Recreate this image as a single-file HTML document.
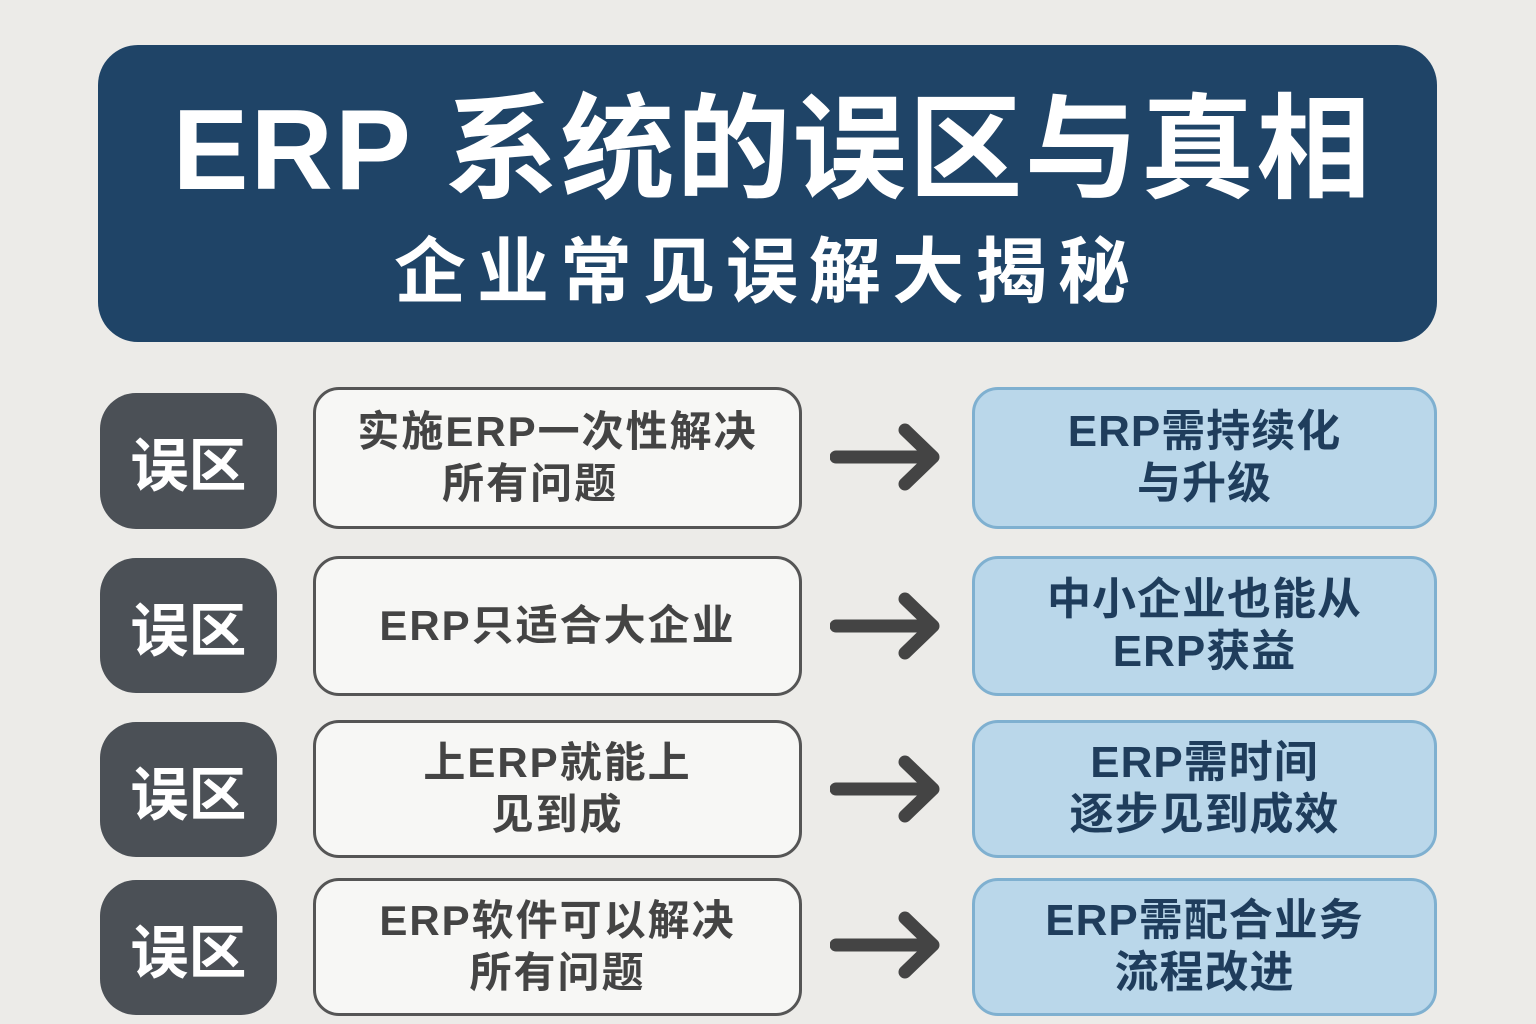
<!DOCTYPE html>
<html><head><meta charset="utf-8"><style>
body{margin:0;width:1536px;height:1024px;background:#ecebe8;font-family:"Liberation Sans","Noto Sans CJK SC",sans-serif;position:relative;overflow:hidden}
.hdr{position:absolute;left:98px;top:45px;width:1339px;height:297px;background:#1f4467;border-radius:40px;color:#fff;font-weight:bold}
.t1{position:absolute;left:10px;right:0;top:46px;text-align:center;font-size:114px;line-height:120px;letter-spacing:2px}
.t2{position:absolute;left:0;right:0;top:188px;text-align:center;font-size:72px;line-height:80px;letter-spacing:11px}
.a{position:absolute;left:100px;width:177px;background:#4b5056;border-radius:36px;color:#fff;font-size:58px;font-weight:bold;display:flex;align-items:center;justify-content:center}
.m{position:absolute;left:313px;width:483px;border:3px solid #555;background:#f7f7f5;border-radius:26px;color:#444;font-size:42px;font-weight:bold;display:flex;align-items:center;justify-content:center;text-align:center;line-height:52px;letter-spacing:2px}
.r{position:absolute;left:972px;width:459px;border:3px solid #7fb0d0;background:#bad7ea;border-radius:26px;color:#1f3d5c;font-size:44px;font-weight:bold;display:flex;align-items:center;justify-content:center;text-align:center;line-height:52px;letter-spacing:1px}
svg{position:absolute;left:830px}
</style></head><body>
<div class="hdr"><div class="t1">ERP 系统的误区与真相</div><div class="t2">企业常见误解大揭秘</div></div>

<div class="a" style="top:393px;height:136px">误区</div>
<div class="m" style="top:387px;height:136px">实施ERP一次性解决<br>所有问题&nbsp;&nbsp;&nbsp;&nbsp;</div>
<svg style="top:422px" width="115" height="70"><path d="M6 35H100M75 8L103 35L75 62" stroke="#444" stroke-width="13" fill="none" stroke-linecap="round" stroke-linejoin="round"/></svg>
<div class="r" style="top:387px;height:136px">ERP需持续化<br>与升级</div>

<div class="a" style="top:558px;height:135px">误区</div>
<div class="m" style="top:556px;height:134px">ERP只适合大企业</div>
<svg style="top:591px" width="115" height="70"><path d="M6 35H100M75 8L103 35L75 62" stroke="#444" stroke-width="13" fill="none" stroke-linecap="round" stroke-linejoin="round"/></svg>
<div class="r" style="top:556px;height:134px">中小企业也能从<br>ERP获益</div>

<div class="a" style="top:722px;height:135px">误区</div>
<div class="m" style="top:720px;height:132px">上ERP就能上<br>见到成</div>
<svg style="top:754px" width="115" height="70"><path d="M6 35H100M75 8L103 35L75 62" stroke="#444" stroke-width="13" fill="none" stroke-linecap="round" stroke-linejoin="round"/></svg>
<div class="r" style="top:720px;height:132px">ERP需时间<br>逐步见到成效</div>

<div class="a" style="top:880px;height:135px">误区</div>
<div class="m" style="top:878px;height:132px">ERP软件可以解决<br>所有问题</div>
<svg style="top:910px" width="115" height="70"><path d="M6 35H100M75 8L103 35L75 62" stroke="#444" stroke-width="13" fill="none" stroke-linecap="round" stroke-linejoin="round"/></svg>
<div class="r" style="top:878px;height:132px">ERP需配合业务<br>流程改进</div>
</body></html>
